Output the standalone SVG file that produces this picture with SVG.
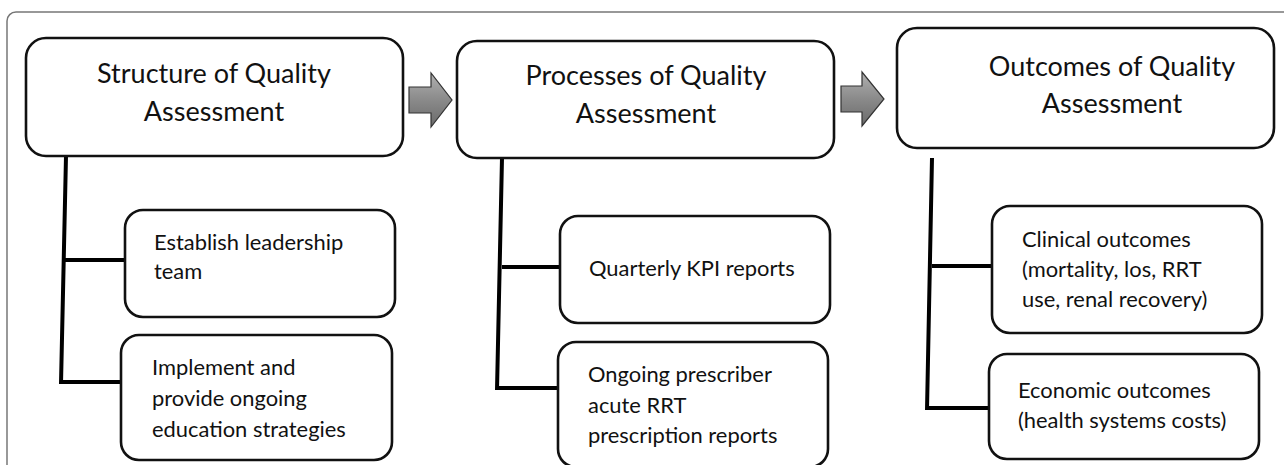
<svg xmlns="http://www.w3.org/2000/svg" width="1284" height="465" viewBox="0 0 1284 465">
<defs>
<linearGradient id="ag" x1="0" y1="0" x2="0" y2="1">
<stop offset="0" stop-color="#b0b0b0"/>
<stop offset="0.5" stop-color="#8a8a8a"/>
<stop offset="1" stop-color="#6a6a6a"/>
</linearGradient>
<style>
.box{fill:#fff;stroke:#111;stroke-width:2.6}
.hd{font-family:Lato,"Liberation Sans",sans-serif;font-size:27px;fill:#111;text-anchor:middle}
.tx{font-family:Lato,"Liberation Sans",sans-serif;font-size:21.9px;fill:#111}
.ln{fill:none;stroke:#000;stroke-width:4}
.arr{fill:url(#ag);stroke:#333;stroke-width:1.2}
</style>
</defs>
<rect x="7" y="12" width="1300" height="480" rx="9" fill="#fff" stroke="#777" stroke-width="1.5"/>
<g id="connectors">
<path class="ln" d="M66 156 L61 384 M63 260 L124 260 M61 382 L121 382"/>
<path class="ln" d="M502 158 L497 390 M502 267 L560 267 M497 388 L559 388"/>
<path class="ln" d="M932 158 L927 410 M932 266 L991 266 M927 408 L990 408"/>
<path class="arr" d="M409 87 L431 87 L431 73 L452 100 L431 127 L431 113 L409 113 Z"/>
<path class="arr" d="M841 86 L862 86 L862 72 L884 99 L862 126 L862 112 L841 112 Z"/>
</g>
<g id="structure">
<rect class="box" x="26" y="38" width="377" height="118" rx="20"/>
<text class="hd" x="214" y="83">Structure of Quality</text>
<text class="hd" x="214" y="121">Assessment</text>
</g>
<g id="processes">
<rect class="box" x="457" y="41" width="377" height="117" rx="20"/>
<text class="hd" x="646" y="85">Processes of Quality</text>
<text class="hd" x="646" y="123">Assessment</text>
</g>
<g id="outcomes">
<rect class="box" x="897" y="28" width="377" height="120" rx="20"/>
<text class="hd" x="1112" y="76">Outcomes of Quality</text>
<text class="hd" x="1112" y="113">Assessment</text>
</g>
<g id="leadership">
<rect class="box" x="125" y="210" width="270" height="107" rx="18"/>
<text class="tx" x="154" y="250">Establish leadership</text>
<text class="tx" x="154" y="279">team</text>
</g>
<g id="education">
<rect class="box" x="121" y="335" width="271" height="125" rx="18"/>
<text class="tx" x="152" y="375">Implement and</text>
<text class="tx" x="152" y="406">provide ongoing</text>
<text class="tx" x="152" y="437">education strategies</text>
</g>
<g id="kpi">
<rect class="box" x="560" y="216" width="270" height="107" rx="18"/>
<text class="tx" x="589" y="276">Quarterly KPI reports</text>
</g>
<g id="prescriber">
<rect class="box" x="558" y="342" width="270" height="125" rx="18"/>
<text class="tx" x="588" y="382">Ongoing prescriber</text>
<text class="tx" x="588" y="413">acute RRT</text>
<text class="tx" x="588" y="443">prescription reports</text>
</g>
<g id="clinical">
<rect class="box" x="992" y="206" width="270" height="127" rx="18"/>
<text class="tx" x="1022" y="247">Clinical outcomes</text>
<text class="tx" x="1022" y="277">(mortality, los, RRT</text>
<text class="tx" x="1022" y="307">use, renal recovery)</text>
</g>
<g id="economic">
<rect class="box" x="989" y="354" width="270" height="105" rx="18"/>
<text class="tx" x="1018" y="398">Economic outcomes</text>
<text class="tx" x="1018" y="428">(health systems costs)</text>
</g>
</svg>
